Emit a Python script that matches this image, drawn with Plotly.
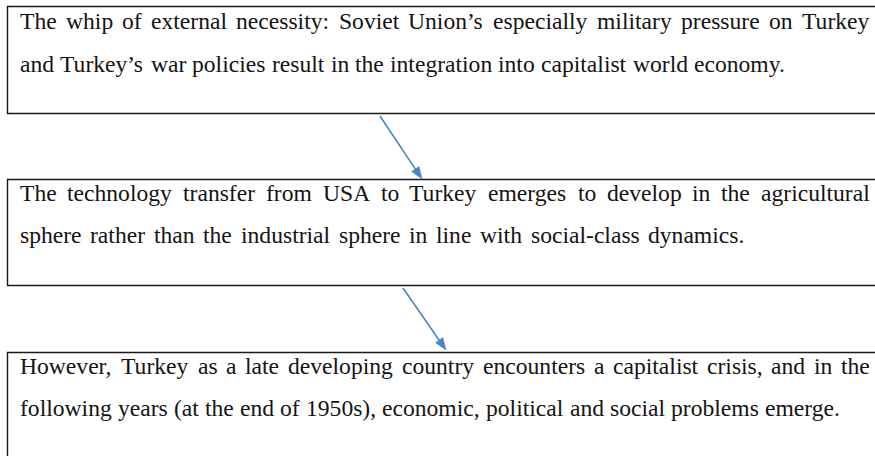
import math
import plotly.graph_objects as go

# ---- content -------------------------------------------------------------
box1_lines = [
    "The whip of external necessity: Soviet Union\u2019s especially military pressure on Turkey",
    "and Turkey\u2019s war policies result in the integration into capitalist world economy.",
]
box2_lines = [
    "The technology transfer from USA to Turkey emerges to develop in the agricultural",
    "sphere rather than the industrial sphere in line with social-class dynamics.",
]
box3_lines = [
    "However, Turkey as a late developing country encounters a capitalist crisis, and in the",
    "following years (at the end of 1950s), economic, political and social problems emerge.",
]
boxes_text = [box1_lines, box2_lines, box3_lines]
# right end of each line in pixels (None = natural word spacing)
line_ends = [(870, None), (870, 745), (870, None)]

# ---- layout constants (pixels) ------------------------------------------
W, H = 875, 456
box_left = 7.5
box_tops = [6.5, 179.5, 352.5]
box_bottoms = [113.5, 285.5, 520]
text_x0 = 20
baselines = [(29, 71.5), (200.5, 242.5), (373.5, 415.5)]
arrows = [((380, 116), (422, 179)), ((403, 288), (446, 350))]
font_size = 23.6
ref_scale = 23.7 / 1000.0
text_color = "#151313"
arrow_color = "#4a86c5"
font_family = "Liberation Serif"

# Times-compatible advance widths (1/1000 em)
lower = dict(zip("abcdefghijklmnopqrstuvwxyz",
                 [444, 500, 444, 500, 444, 333, 500, 500, 278, 278, 500, 278, 778,
                  500, 500, 500, 500, 333, 389, 278, 500, 500, 722, 500, 500, 444]))
upper = dict(zip("ABCDEFGHIJKLMNOPQRSTUVWXYZ",
                 [722, 667, 667, 722, 611, 556, 722, 722, 333, 389, 722, 611, 889,
                  722, 722, 556, 722, 667, 556, 611, 722, 722, 944, 722, 722, 611]))
other = {":": 278, ",": 250, ".": 250, "\u2019": 300, "'": 180, "-": 333,
         "(": 333, ")": 333, " ": 250}
for d in "0123456789":
    other[d] = 500
metrics = {**lower, **upper, **other}


def word_width(w):
    return sum(metrics.get(c, 500) for c in w) * ref_scale


fig = go.Figure()
fig.add_trace(go.Scatter(x=[0, W], y=[0, H], mode="markers",
                         marker=dict(opacity=0), hoverinfo="skip", showlegend=False))

shapes = []
for top, bot in zip(box_tops, box_bottoms):
    shapes.append(dict(type="rect", xref="x", yref="y", x0=box_left, x1=W + 40,
                       y0=top, y1=bot, line=dict(color="#1a1a1a", width=1.4),
                       fillcolor="rgba(0,0,0,0)"))

# arrows: shaft + triangular head
head_len, head_w = 12.0, 9.0
for (x0, y0), (x1, y1) in arrows:
    dx, dy = x1 - x0, y1 - y0
    L = math.hypot(dx, dy)
    ux, uy = dx / L, dy / L
    bx, by = x1 - ux * head_len, y1 - uy * head_len
    px, py = -uy, ux
    shapes.append(dict(type="line", xref="x", yref="y", x0=x0, y0=y0, x1=bx + ux * 1,
                       y1=by + uy * 1, line=dict(color=arrow_color, width=1.6)))
    path = (f"M {x1},{y1} L {bx + px * head_w / 2},{by + py * head_w / 2} "
            f"L {bx - px * head_w / 2},{by - py * head_w / 2} Z")
    shapes.append(dict(type="path", xref="x", yref="y", path=path,
                       fillcolor=arrow_color, line=dict(color=arrow_color, width=0.5)))

annotations = []
for lines, bls, ends in zip(boxes_text, baselines, line_ends):
    for line, base, end in zip(lines, bls, ends):
        words = line.split(" ")
        widths = [word_width(w) for w in words]
        if end is not None:
            gap = (end - text_x0 - sum(widths)) / (len(words) - 1)
        else:
            gap = metrics[" "] * ref_scale
        x = text_x0
        for w, wd in zip(words, widths):
            annotations.append(dict(
                x=x - 2, y=base + 2 + 0.216 * font_size, xref="x", yref="y",
                xanchor="left", yanchor="bottom", text=w, showarrow=False,
                font=dict(family=font_family, size=font_size, color=text_color)))
            x += wd + gap

fig.update_layout(
    width=W, height=H, margin=dict(l=0, r=0, t=0, b=0),
    paper_bgcolor="white", plot_bgcolor="white",
    xaxis=dict(range=[0, W], visible=False, fixedrange=True),
    yaxis=dict(range=[H, 0], visible=False, fixedrange=True),
    shapes=shapes, annotations=annotations, showlegend=False,
)
fig.write_html("out.html", config={"displayModeBar": False},
               post_script="document.body.style.margin='0';"
                           "document.body.style.overflow='hidden';")
